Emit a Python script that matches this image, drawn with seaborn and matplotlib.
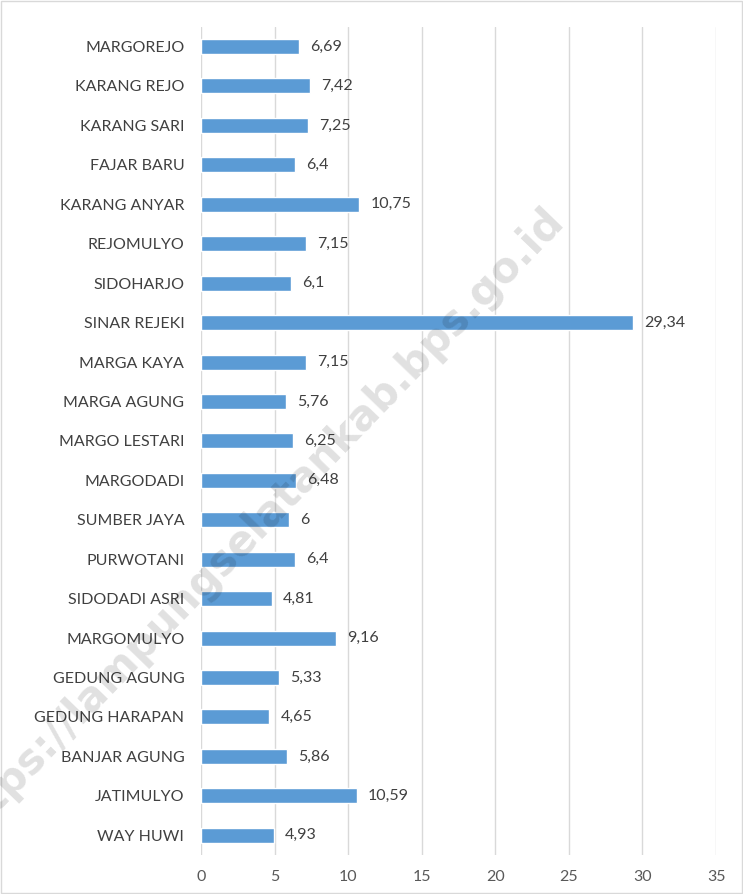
import matplotlib
matplotlib.use("Agg")
import matplotlib.pyplot as plt
import seaborn as sns
import pandas as pd

# desa / kelurahan, top to bottom as shown
desa = ["MARGOREJO", "KARANG REJO", "KARANG SARI", "FAJAR BARU", "KARANG ANYAR",
        "REJOMULYO", "SIDOHARJO", "SINAR REJEKI", "MARGA KAYA", "MARGA AGUNG",
        "MARGO LESTARI", "MARGODADI", "SUMBER JAYA", "PURWOTANI", "SIDODADI ASRI",
        "MARGOMULYO", "GEDUNG AGUNG", "GEDUNG HARAPAN", "BANJAR AGUNG",
        "JATIMULYO", "WAY HUWI"]
nilai = [6.69, 7.42, 7.25, 6.4, 10.75, 7.15, 6.1, 29.34, 7.15, 5.76,
         6.25, 6.48, 6.0, 6.4, 4.81, 9.16, 5.33, 4.65, 5.86, 10.59, 4.93]
x_ticks = [0, 5, 10, 15, 20, 25, 30, 35]

df = pd.DataFrame({"desa": desa, "nilai": nilai})

sns.set_style("white")
plt.rcParams["font.family"] = ["Lato", "DejaVu Sans"]

fig = plt.figure(figsize=(7.43, 8.94), dpi=100)
ax = fig.add_axes([0.2705, 0.0436, 0.6932, 0.9264])

sns.barplot(data=df, x="nilai", y="desa", orient="h", color="#5B9BD5",
            saturation=1, width=0.38, ax=ax, zorder=3)

# value labels with comma decimals
labels = [f"{v:g}".replace(".", ",") for v in nilai]
ax.bar_label(ax.containers[0], labels=labels, padding=8, fontsize=11.5,
             color="#404040")

ax.set_xlim(0, 35)
ax.set_xticks(x_ticks)
ax.set_xticklabels([str(t) for t in x_ticks], fontsize=11.5, color="#595959")
ax.tick_params(axis="x", length=0, pad=11)
ax.tick_params(axis="y", length=0, pad=12, labelsize=11.5, labelcolor="#404040")
ax.set_xlabel("")
ax.set_ylabel("")
ax.xaxis.grid(True, color="#d9d9d9", linewidth=1, zorder=0)
ax.yaxis.grid(False)
for s in ax.spines.values():
    s.set_visible(False)

# watermark (partly cut off at the left edge, as in the source)
fig.text(0.343, 0.412, "https://lampungselatankab.bps.go.id", fontsize=30,
         fontweight="bold", color="#000000", alpha=0.12, rotation=46,
         ha="center", va="center", family="DejaVu Sans")

# outer frame
fig.patches.append(plt.Rectangle((0.001, 0.001), 0.998, 0.998,
                                 transform=fig.transFigure, fill=False,
                                 edgecolor="#d9d9d9", linewidth=1))

fig.savefig("out.png", dpi=100, facecolor="white")
